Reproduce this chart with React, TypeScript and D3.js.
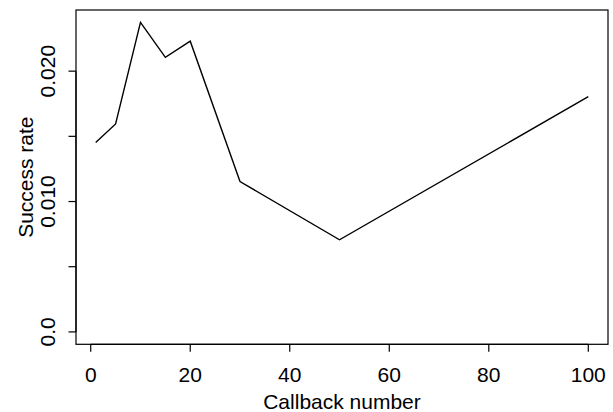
import React from "react";
import * as d3 from "d3";

const callbackNumbers = [1, 5, 10, 15, 20, 30, 50, 100];
const successRates = [0.01452, 0.01595, 0.02374, 0.02106, 0.0223, 0.01153, 0.00707, 0.01804];
const xTicks = [0, 20, 40, 60, 80, 100];
const yTicks = [0, 0.005, 0.01, 0.015, 0.02];
const yTickLabels: Record<number, string> = { 0: "0.0", 0.01: "0.010", 0.02: "0.020" };

const W = 613;
const H = 412;
const left = 76;
const right = 608;
const top = 10;
const bottom = 344.3;
const font = "'Liberation Sans', Arial, Helvetica, sans-serif";
const fs = 21;

export default function App() {
  const xMinD = 1, xMaxD = 100;
  const xPad = (xMaxD - xMinD) * 0.04;
  const yMinD = 0, yMaxD = d3.max(successRates) as number;
  const yPad = (yMaxD - yMinD) * 0.04;
  const x = d3.scaleLinear().domain([xMinD - xPad, xMaxD + xPad]).range([left, right]);
  const y = d3.scaleLinear().domain([yMinD - yPad, yMaxD + yPad]).range([bottom, top]);
  const line = d3
    .line<number>()
    .x((_, i) => x(callbackNumbers[i]))
    .y((d) => y(d));

  return (
    <svg
      width={W}
      height={H}
      style={{ position: "absolute", left: 0, top: 0, background: "#fff" }}
      fontFamily={font}
    >
      <rect x={0} y={0} width={W} height={H} fill="#fff" />
      <path d={line(successRates) || ""} fill="none" stroke="#000" strokeWidth={1.4} strokeLinejoin="miter" />
      <rect x={left} y={top} width={right - left} height={bottom - top} fill="none" stroke="#000" strokeWidth={1.2} />
      {/* x axis */}
      <line x1={x(xTicks[0])} x2={x(xTicks[xTicks.length - 1])} y1={bottom} y2={bottom} stroke="#000" strokeWidth={1.2} />
      {xTicks.map((t) => (
        <g key={t}>
          <line x1={x(t)} x2={x(t)} y1={bottom} y2={bottom + 7.5} stroke="#000" strokeWidth={1.2} />
          <text x={x(t)} y={381.5} fontSize={fs} textAnchor="middle" fill="#000">
            {t}
          </text>
        </g>
      ))}
      {/* y axis */}
      <line x1={left} x2={left} y1={y(yTicks[0])} y2={y(yTicks[yTicks.length - 1])} stroke="#000" strokeWidth={1.2} />
      {yTicks.map((t) => (
        <g key={t}>
          <line x1={left - 7.5} x2={left} y1={y(t)} y2={y(t)} stroke="#000" strokeWidth={1.2} />
          {yTickLabels[t] !== undefined && (
            <text
              transform={`translate(55,${y(t)}) rotate(-90)`}
              fontSize={fs}
              textAnchor="middle"
              fill="#000"
            >
              {yTickLabels[t]}
            </text>
          )}
        </g>
      ))}
      <text x={(left + right) / 2} y={408.5} fontSize={fs} textAnchor="middle" fill="#000">
        Callback number
      </text>
      <text
        transform={`translate(33,${(top + bottom) / 2}) rotate(-90)`}
        fontSize={fs}
        textAnchor="middle"
        fill="#000"
      >
        Success rate
      </text>
    </svg>
  );
}
